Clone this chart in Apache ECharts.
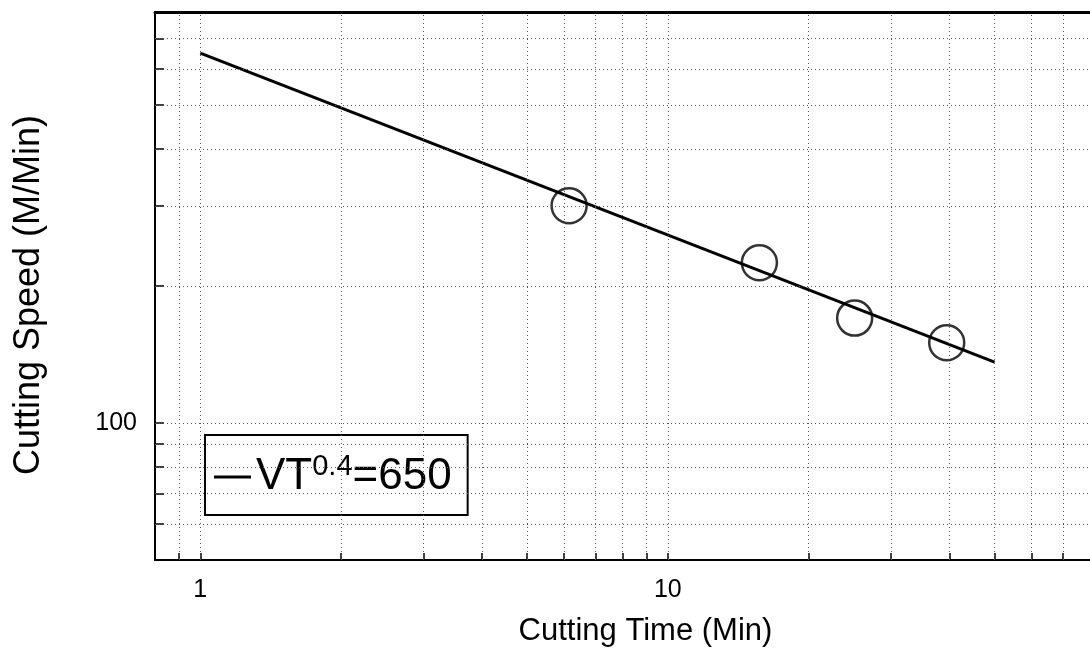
<!DOCTYPE html>
<html>
<head>
<meta charset="utf-8">
<script src="https://cdn.jsdelivr.net/npm/echarts@6/dist/echarts.min.js"></script>
<style>
  html, body { margin: 0; padding: 0; background: #fff; }
  #chart { width: 1090px; height: 666px; }
</style>
</head>
<body>
<div id="chart"></div>
<script>
// measured points (circles)
const timeMin = [6.15, 15.7, 25.1, 39.5];
const speed = [300, 225, 170, 150];
// fitted line VT^0.4 = 650, read at its two ends
const lineTime = [1, 50];
const lineSpeed = [650, 136];
// tick labels
const xLabels = [1, 10];
const yLabels = [100];
// grid lines
const xGrid = [0.9, 1, 2, 3, 4, 5, 6, 7, 8, 9, 10, 20, 30, 40, 50, 60, 70];
const yGrid = [60, 70, 80, 90, 100, 200, 300, 400, 500, 600, 700];

const font = "'Liberation Sans', Arial, Helvetica, sans-serif";

const chart = echarts.init(document.getElementById("chart"));
chart.setOption({
  animation: false,
  backgroundColor: "#fff",
  grid: { left: 155, right: 0, top: 12, bottom: 106 },
  legend: {
    data: ["fit"],
    left: 205,
    top: 435,
    icon: "rect",
    itemWidth: 37,
    itemHeight: 3,
    padding: [17, 16, 16, 9],
    backgroundColor: "#fff",
    borderColor: "#000",
    borderWidth: 2,
    borderRadius: 0,
    selectedMode: false,
    formatter: () => "{m|VT}{s|0.4}{m|=650}",
    textStyle: {
      color: "#000",
      rich: {
        m: { fontFamily: font, fontSize: 44, lineHeight: 50, color: "#000" },
        s: { fontFamily: font, fontSize: 29, lineHeight: 28, verticalAlign: "top", color: "#000" },
      },
    },
  },
  xAxis: [
    {
      type: "log",
      logBase: 10,
      min: 0.8,
      max: 80,
      name: "Cutting Time (Min)",
      nameLocation: "middle",
      nameGap: 56,
      nameTextStyle: { fontFamily: font, fontSize: 31, color: "#000", padding: [0, 0, 0, 46] },
      axisLine: { lineStyle: { color: "#000", width: 2 } },
      axisTick: { inside: true, length: 7, customValues: xGrid, lineStyle: { color: "#000", width: 1.5 } },
      axisLabel: { customValues: xLabels, margin: 18, fontFamily: font, fontSize: 25, color: "#000" },
      splitLine: { show: false },
    },
    {
      // top frame line
      type: "log",
      position: "top",
      min: 0.8,
      max: 80,
      axisLine: { lineStyle: { color: "#000", width: 3 } },
      axisTick: { show: false },
      axisLabel: { show: false },
      splitLine: { show: false },
    },
  ],
  yAxis: {
    type: "log",
    logBase: 10,
    min: 50,
    max: 800,
    name: "Cutting Speed (M/Min)",
    nameLocation: "middle",
    nameGap: 108,
    nameTextStyle: { fontFamily: font, fontSize: 36, color: "#000", padding: [0, 18, 0, 0] },
    axisLine: { lineStyle: { color: "#000", width: 2 } },
    axisTick: { inside: true, length: 9, customValues: yGrid, lineStyle: { color: "#000", width: 1.5 } },
    axisLabel: { customValues: yLabels, margin: 18, fontFamily: font, fontSize: 25, color: "#000" },
    splitLine: { show: false },
  },
  series: [
    {
      // dotted grid
      type: "line",
      data: [],
      silent: true,
      markLine: {
        silent: true,
        symbol: ["none", "none"],
        label: { show: false },
        lineStyle: { color: "#555", width: 1, type: [1, 3] },
        data: xGrid.map((v) => ({ xAxis: v })).concat(yGrid.map((v) => ({ yAxis: v }))),
      },
    },
    {
      name: "fit",
      type: "line",
      symbol: "none",
      lineStyle: { color: "#000", width: 3 },
      itemStyle: { color: "#000" },
      data: lineTime.map((t, i) => [t, lineSpeed[i]]),
    },
    {
      name: "test",
      type: "scatter",
      symbol: "circle",
      symbolSize: 35,
      itemStyle: { color: "rgba(0,0,0,0)", borderColor: "#000", borderWidth: 2.5 },
      data: timeMin.map((t, i) => [t, speed[i]]),
    },
  ],
});
</script>
</body>
</html>
